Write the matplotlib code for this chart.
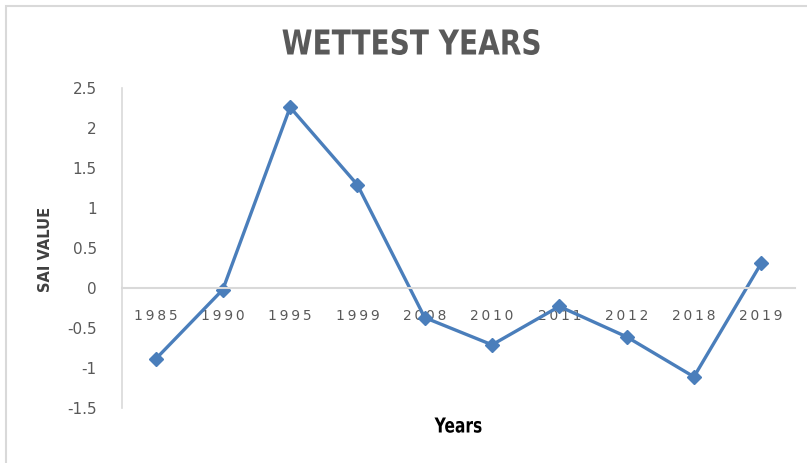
import matplotlib.pyplot as plt
from matplotlib.patches import Rectangle, PathPatch
from matplotlib.textpath import TextPath
from matplotlib.font_manager import FontProperties
from matplotlib.transforms import Affine2D, IdentityTransform

# data
years = ['1985', '1990', '1995', '1999', '2008', '2010', '2011', '2012', '2018', '2019']
sai = [-0.89, -0.02, 2.26, 1.29, -0.37, -0.71, -0.23, -0.61, -1.11, 0.31]
yticks = [-1.5, -1, -0.5, 0, 0.5, 1, 1.5, 2, 2.5]
ytick_labels = ['-1.5', '-1', '-0.5', '0', '0.5', '1', '1.5', '2', '2.5']

W, H = 807, 463
fig = plt.figure(figsize=(W / 100, H / 100), dpi=100)
ax = fig.add_axes([0.151, 0.1188, 0.834, 0.691])


def narrow_text(s, cx, cy, width, height, color, weight='bold'):
    # condensed text: draw glyph outlines squeezed to the wanted box (pixels, from top-left)
    tp = TextPath((0, 0), s, size=100, prop=FontProperties(family='DejaVu Sans', weight=weight))
    ext = tp.get_extents()
    cap = TextPath((0, 0), 'H', size=100, prop=FontProperties(family='DejaVu Sans', weight=weight)).get_extents()
    sx = width / ext.width
    sy = height / cap.height
    tr = (Affine2D().translate(-ext.x0 - ext.width / 2, -cap.height / 2)
          .scale(sx, sy).translate(cx, H - cy))
    fig.patches.append(PathPatch(tr.transform_path(tp), transform=IdentityTransform(),
                                 facecolor=color, edgecolor='none'))


xs = list(range(len(years)))
ax.plot(xs, sai, color='#4a7ebb', linewidth=2.4, marker='D', markersize=7)

ax.set_xlim(-0.5, len(years) - 0.5)
ax.set_ylim(-1.5, 2.5)
ax.set_yticks(yticks)
ax.set_yticklabels(ytick_labels, fontsize=11)
ax.set_xticks(xs)
ax.set_xticklabels(['\u2009'.join(y) for y in years], fontsize=11)
ax.tick_params(axis='both', length=0, labelcolor='#595959')
ax.tick_params(axis='x', pad=15)
ax.tick_params(axis='y', pad=18)

for side in ['top', 'right']:
    ax.spines[side].set_visible(False)
ax.spines['bottom'].set_position(('data', 0))
ax.spines['bottom'].set_color('#d9d9d9')
ax.spines['left'].set_color('#d9d9d9')
ax.spines['bottom'].set_linewidth(1.5)
ax.spines['left'].set_linewidth(1.2)

narrow_text('WETTEST YEARS', 411, 42, 257, 25, '#595959')
narrow_text('Years', 458, 425, 47, 15, 'black')
fig.text(0.057, 0.462, 'SAI VALUE', ha='center', va='center', rotation=90,
         fontweight='bold', fontsize=10.5, color='#404040')

fig.patches.append(Rectangle((0.007, -0.01), 1.0, 0.998, transform=fig.transFigure,
                             fill=False, edgecolor='#d9d9d9', linewidth=1.5))

fig.savefig('out.png', dpi=100)
